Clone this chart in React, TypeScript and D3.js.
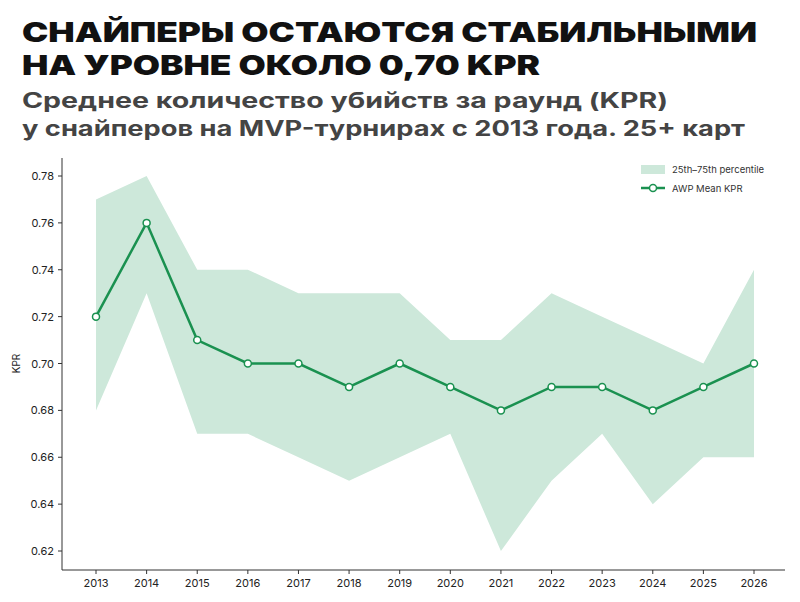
import React from "react";
import * as d3 from "d3";

const years = [2013,2014,2015,2016,2017,2018,2019,2020,2021,2022,2023,2024,2025,2026];
const meanKPR = [0.72,0.76,0.71,0.70,0.70,0.69,0.70,0.69,0.68,0.69,0.69,0.68,0.69,0.70];
const p75 = [0.77,0.78,0.74,0.74,0.73,0.73,0.73,0.71,0.71,0.73,0.72,0.71,0.70,0.74];
const p25 = [0.68,0.73,0.67,0.67,0.66,0.65,0.66,0.67,0.62,0.65,0.67,0.64,0.66,0.66];
const yTicks = [0.62,0.64,0.66,0.68,0.70,0.72,0.74,0.76,0.78];

export default function App() {
  const W = 800, H = 602;
  const x = d3.scaleLinear().domain([2013, 2026]).range([96, 754]);
  const y = d3.scaleLinear().domain([0.62, 0.78]).range([551, 176]);
  const L = 62, R = 785, T = 158, B = 570;
  const area = d3.area<number>().x((_, i) => x(years[i])).y0((_, i) => y(p25[i])).y1(d => y(d));
  const line = d3.line<number>().x((_, i) => x(years[i])).y(d => y(d));
  const font = "Inter, 'Noto Sans', sans-serif";
  return (
    <svg width={W} height={H} style={{ position: "absolute", left: 0, top: 0, background: "#fff" }} fontFamily={font}>
      <rect width={W} height={H} fill="#fff" />
      <text x={22} y={42} fontSize={27} fontWeight={900} fill="#111" textLength={735} lengthAdjust="spacingAndGlyphs">СНАЙПЕРЫ ОСТАЮТСЯ СТАБИЛЬНЫМИ</text>
      <text x={22} y={75} fontSize={27} fontWeight={900} fill="#111" textLength={518} lengthAdjust="spacingAndGlyphs">НА УРОВНЕ ОКОЛО 0,70 KPR</text>
      <text x={22} y={108} fontSize={21} fontWeight={700} fill="#444" textLength={646} lengthAdjust="spacingAndGlyphs">Среднее количество убийств за раунд (KPR)</text>
      <text x={22} y={136} fontSize={21} fontWeight={700} fill="#444" textLength={723} lengthAdjust="spacingAndGlyphs">у снайперов на MVP-турнирах с 2013 года. 25+ карт</text>
      <path d={area(p75) || ""} fill="#cde8da" />
      <line x1={L} x2={L} y1={T} y2={B} stroke="#333" />
      <line x1={L} x2={R} y1={B} y2={B} stroke="#333" />
      {yTicks.map(t => (
        <g key={t}>
          <line x1={L - 4} x2={L} y1={y(t)} y2={y(t)} stroke="#333" />
          <text x={L - 8} y={y(t) + 4} fontSize={11} textAnchor="end" fill="#222">{t.toFixed(2)}</text>
        </g>
      ))}
      {years.map(yr => (
        <g key={yr}>
          <line x1={x(yr)} x2={x(yr)} y1={B} y2={B + 4} stroke="#333" />
          <text x={x(yr)} y={B + 17} fontSize={11} textAnchor="middle" fill="#222">{yr}</text>
        </g>
      ))}
      <text transform={`translate(20,${y(0.70)}) rotate(-90)`} fontSize={10} textAnchor="middle" fill="#222">KPR</text>
      <path d={line(meanKPR) || ""} fill="none" stroke="#1a9150" strokeWidth={2.5} />
      {meanKPR.map((v, i) => (
        <circle key={i} cx={x(years[i])} cy={y(v)} r={3.5} fill="#fff" stroke="#1a9150" strokeWidth={1.5} />
      ))}
      <rect x={641} y={165} width={24} height={9} fill="#cde8da" />
      <text x={672} y={173} fontSize={9.5} fill="#333">25th–75th percentile</text>
      <line x1={641} x2={665} y1={188} y2={188} stroke="#1a9150" strokeWidth={2.5} />
      <circle cx={653} cy={188} r={3.5} fill="#fff" stroke="#1a9150" strokeWidth={1.5} />
      <text x={672} y={192} fontSize={9.5} fill="#333">AWP Mean KPR</text>
    </svg>
  );
}
